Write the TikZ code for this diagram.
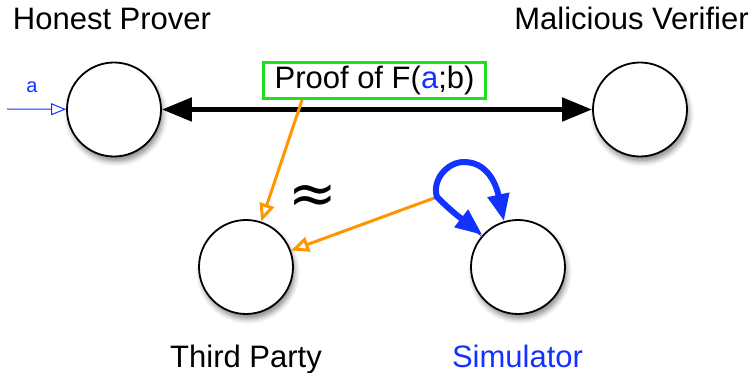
\documentclass[tikz,border=0pt]{standalone}
\usepackage{fontspec}
\setmainfont{Liberation Sans}
\newfontfamily\symbolfont{DejaVu Sans}
\usetikzlibrary{arrows.meta,shadows.blur,calc}
\definecolor{myblue}{RGB}{20,50,255}
\definecolor{myorange}{RGB}{255,150,0}
\definecolor{mygreen}{RGB}{30,225,30}
\begin{document}
\begin{tikzpicture}[x=1pt,y=1pt,
  party/.style={circle,draw,line width=1.8pt,fill=white,minimum size=94pt,inner sep=0pt,
    blur shadow={shadow xshift=2pt,shadow yshift=-5pt,shadow blur radius=5pt,shadow opacity=45}},
  lbl/.style={font=\fontsize{31}{36}\selectfont,anchor=base,inner sep=0pt},
  proofbox/.style={draw=mygreen,line width=3pt,minimum width=222pt,minimum height=36pt,inner sep=0pt,
    font=\fontsize{31}{36}\selectfont},
  chan/.style={line width=5pt,{Triangle[length=30pt,width=23pt]}-{Triangle[length=30pt,width=23pt]}},
  inarrow/.style={myblue,line width=1pt,-{Triangle[open,length=15pt,width=12pt]}},
  leak/.style={myorange,line width=3pt,-{Triangle[open,length=18pt,width=15pt]}},
  simloop/.style={myblue,line width=6pt,{Triangle[length=27pt,width=21pt]}-{Triangle[length=27pt,width=21pt]}}
]
\useasboundingbox (0,0) rectangle (754,372);

\node[party] (hp) at (114,262.5) {};
\node[party] (mv) at (640,262.5) {};
\node[party] (tp) at (246,105) {};
\node[party] (sim) at (518,105) {};

\node[lbl] (hpl) at (112,342) {Honest Prover};
\node[lbl] (mvl) at (631.5,342) {Malicious Verifier};
\node[lbl] (tpl) at (246,5) {Third Party};
\node[lbl,text=myblue] (siml) at (517.5,5) {Simulator};

\node[proofbox] (proof) at (374.5,291.5) {Proof of F(\textcolor{myblue}{a};b)};

\draw[chan] (hp) -- (mv);

\coordinate (ain) at (7,263);
\draw[inarrow] (ain) -- (hp);
\node[text=myblue,font=\fontsize{20}{24}\selectfont,inner sep=0pt] (alabel) at (32,285) {a};

\node[inner sep=0pt,font=\symbolfont\fontsize{58}{66}\selectfont] (approx) at (313,173) {≈};

\coordinate (pstart) at ($(proof.south west)!0.178!(proof.south east)$);
\coordinate (junc) at (437,175);
\draw[leak] (pstart) -- (tp);
\draw[leak] (junc) -- (tp);

\draw[simloop] (sim.138) to[out=142,in=-45] (junc) to[out=108,in=180] (464,210) to[out=0,in=102] (sim.107);
\end{tikzpicture}
\end{document}
